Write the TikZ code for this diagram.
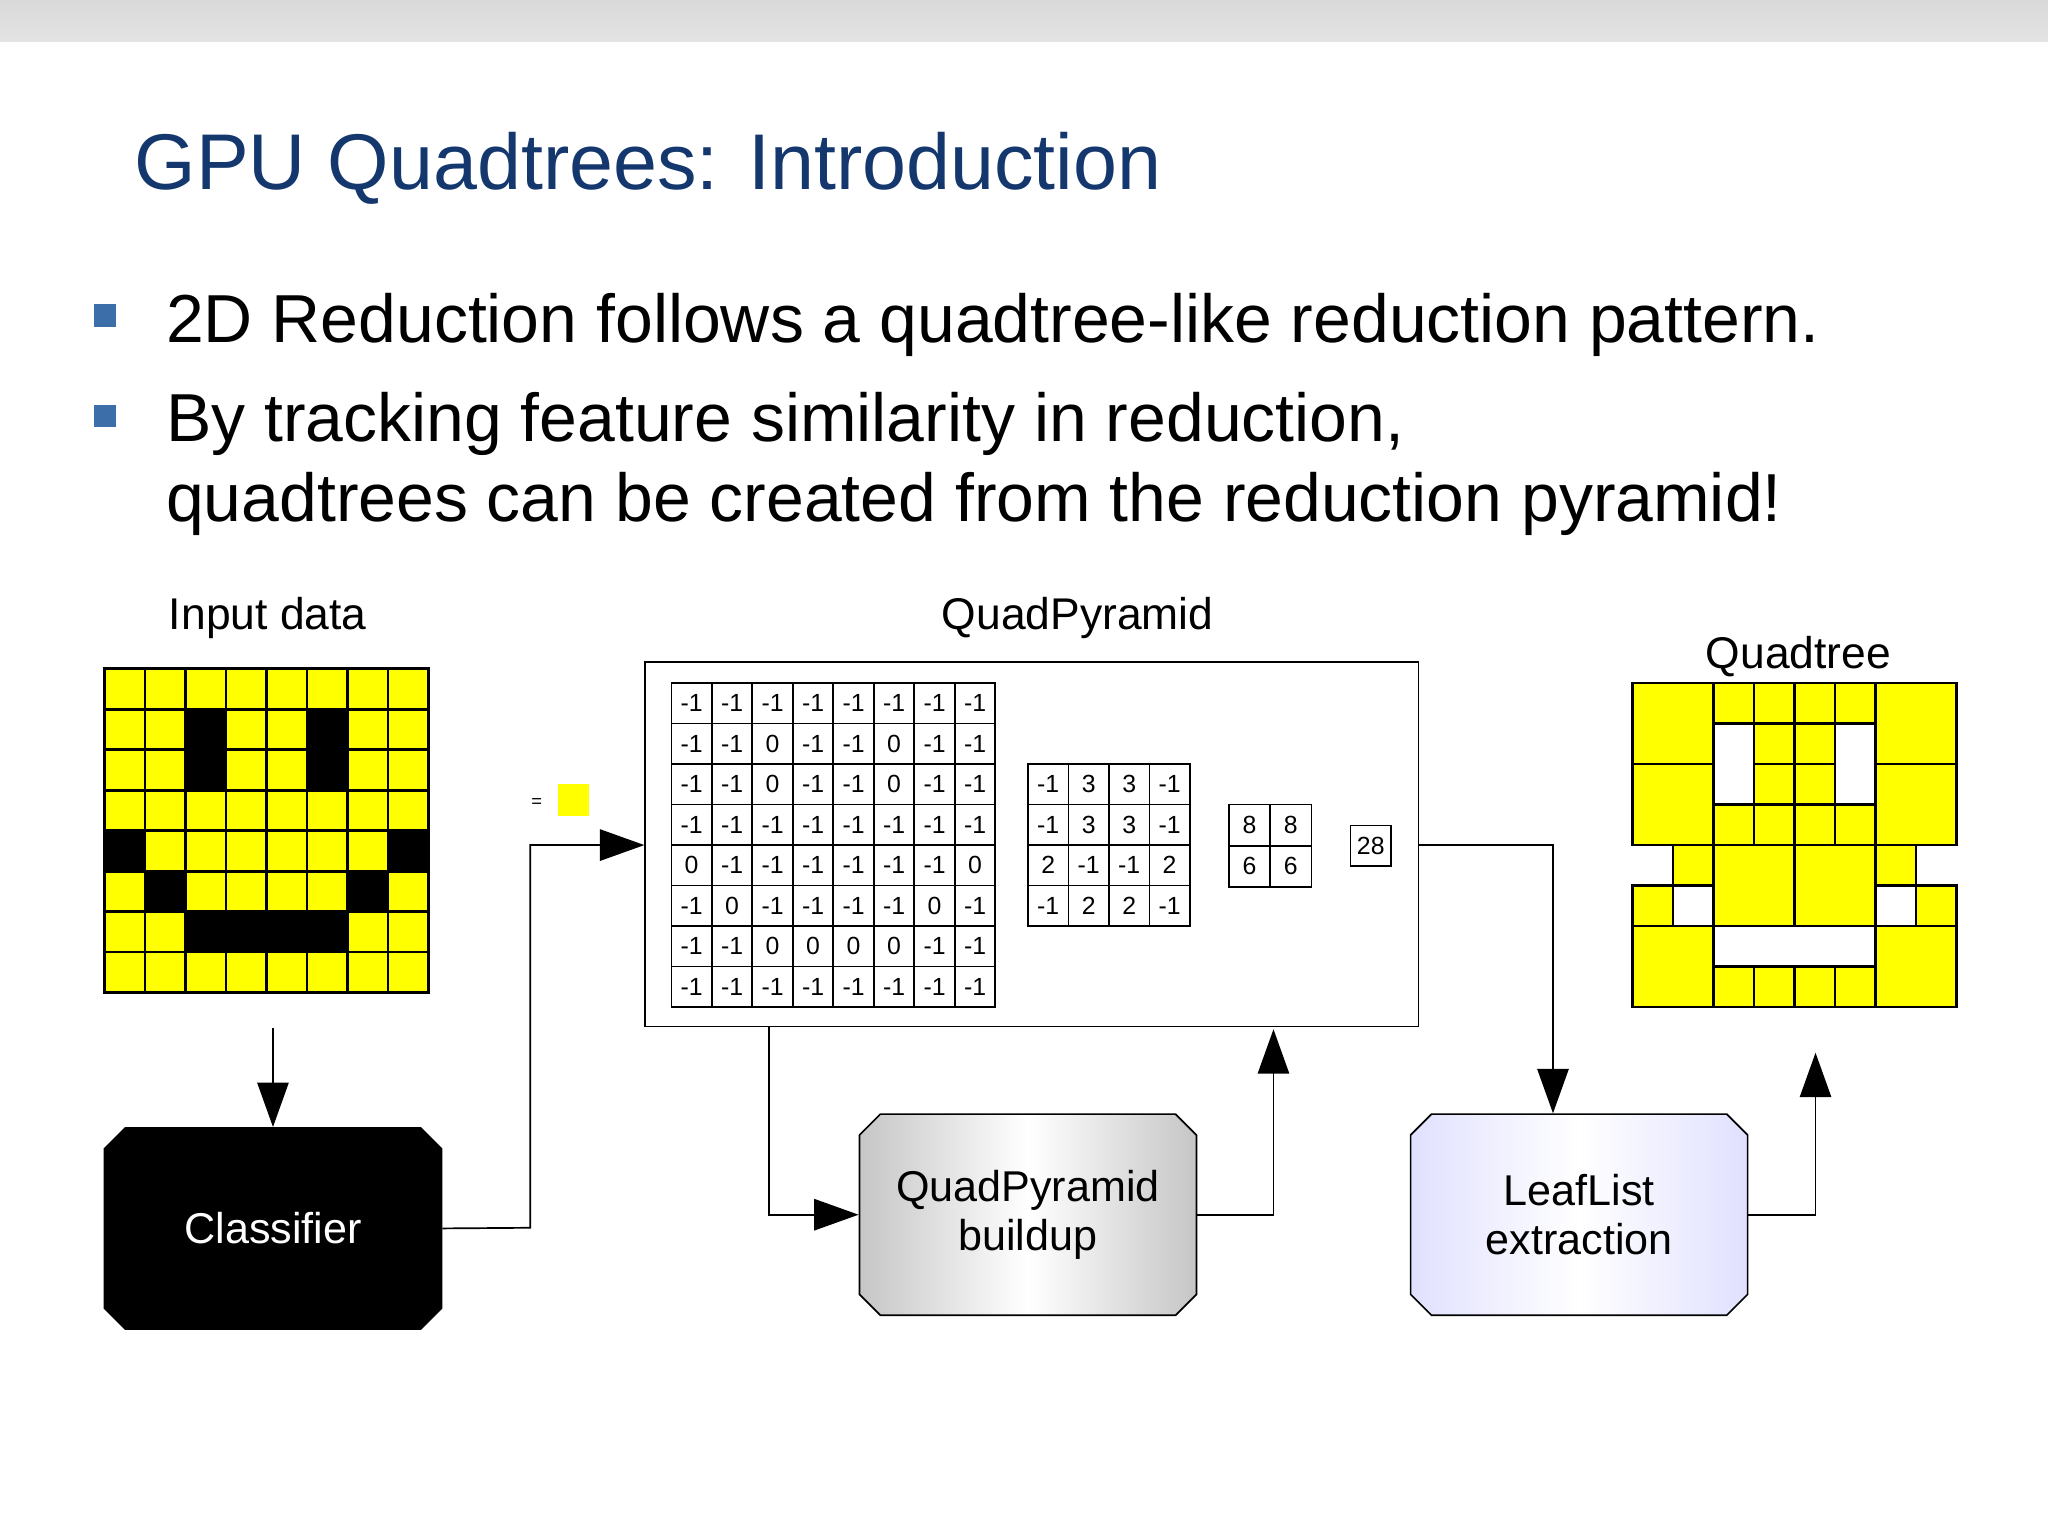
\documentclass[tikz,border=0pt]{standalone}
\usepackage{fontspec}
\setmainfont{Liberation Sans}
\usetikzlibrary{arrows.meta,shapes.misc}
\definecolor{titleblue}{RGB}{20,55,110}
\definecolor{bulletblue}{RGB}{60,110,170}
\definecolor{yel}{RGB}{255,255,0}
\begin{document}
\begin{tikzpicture}[x=1pt,y=-1pt,
  cell/.style={draw=black,line width=2pt},
  num/.style={font=\fontsize{19}{19}\selectfont,inner sep=0pt},
  lab/.style={font=\fontsize{34}{34}\selectfont},
  conn/.style={line width=1.3pt,-{Triangle[length=34pt,width=24pt]}},
  proc/.style={chamfered rectangle,chamfered rectangle xsep=8pt,chamfered rectangle ysep=8pt,draw=black,line width=1.3pt,minimum width=258pt,minimum height=154pt,align=center,font=\fontsize{33}{38}\selectfont}]
\useasboundingbox (0,0) rectangle (1568,1176);
\shade[top color=gray!30,bottom color=gray!22] (0,0) rectangle (1568,32);
\node[anchor=base west,text=titleblue,font=\fontsize{60.5}{60}\selectfont,inner sep=0pt] (title) at (103,145) {GPU Quadtrees: Introduction};
\fill[bulletblue] (72,233) rectangle (89,250);
\fill[bulletblue] (72,310) rectangle (89,327);
\node[anchor=base west,font=\fontsize{52}{52}\selectfont,inner sep=0pt] (b1) at (127,262) {2D Reduction follows a quadtree-like reduction pattern.};
\node[anchor=base west,font=\fontsize{52}{52}\selectfont,inner sep=0pt] (b2) at (127,338) {By tracking feature similarity in reduction,};
\node[anchor=base west,font=\fontsize{52}{52}\selectfont,inner sep=0pt] (b3) at (127,399) {quadtrees can be created from the reduction pyramid!};
% labels
\node[lab] (l1) at (205,473) {Input data};
\node[lab] (l2) at (825,473) {QuadPyramid};
\node[lab] (l3) at (1377,503) {Quadtree};
% smiley
\foreach \r in {0,...,7}{\foreach \c in {0,...,7}{
  \draw[cell,fill=yel] (80+31*\c,512+31*\r) rectangle ++(31,31);}}
\foreach \c/\r in {2/1,2/2,5/1,5/2,0/4,7/4,1/5,6/5,2/6,3/6,4/6,5/6}{
  \fill[black] (80+31*\c,512+31*\r) rectangle ++(31,31);}
\coordinate (smb) at (209,787);
% big box
\node[draw=black,line width=1.3pt,minimum width=592pt,minimum height=279pt,inner sep=0pt] (big) at (790,646.5) {};
\foreach \row [count=\r from 0] in {{-1,-1,-1,-1,-1,-1,-1,-1},{-1,-1,0,-1,-1,0,-1,-1},{-1,-1,0,-1,-1,0,-1,-1},{-1,-1,-1,-1,-1,-1,-1,-1},{0,-1,-1,-1,-1,-1,-1,0},{-1,0,-1,-1,-1,-1,0,-1},{-1,-1,0,0,0,0,-1,-1},{-1,-1,-1,-1,-1,-1,-1,-1}}{
  \foreach \v [count=\c from 0] in \row {
    \draw[line width=1.3pt] (514+31*\c,523+31*\r) rectangle ++(31,31);
    \node[num] at (529.5+31*\c,538.5+31*\r) {\v};}}
\foreach \row [count=\r from 0] in {{-1,3,3,-1},{-1,3,3,-1},{2,-1,-1,2},{-1,2,2,-1}}{
  \foreach \v [count=\c from 0] in \row {
    \draw[line width=1.3pt] (787+31*\c,585+31*\r) rectangle ++(31,31);
    \node[num] at (802.5+31*\c,600.5+31*\r) {\v};}}
\foreach \row [count=\r from 0] in {{8,8},{6,6}}{
  \foreach \v [count=\c from 0] in \row {
    \draw[line width=1.3pt] (941+31.5*\c,616+31.5*\r) rectangle ++(31.5,31.5);
    \node[num] at (956.75+31.5*\c,631.75+31.5*\r) {\v};}}
\draw[line width=1.3pt] (1034,632) rectangle (1065,663);
\node[num] (n28) at (1049.5,647.5) {28};
% small equals
\node[font=\fontsize{14}{14}\selectfont,inner sep=0pt] (eq) at (411,615) {=};
\fill[yel] (427,600) rectangle (451,625);
% quadtree
\foreach \x/\y/\s in {0/0/2,6/0/2,0/2/2,6/2/2,0/6/2,6/6/2,2/4/2,4/4/2,
  2/0/1,3/0/1,4/0/1,5/0/1,3/1/1,4/1/1,3/2/1,4/2/1,2/3/1,3/3/1,4/3/1,5/3/1,1/4/1,6/4/1,0/5/1,7/5/1,2/7/1,3/7/1,4/7/1,5/7/1}{
  \draw[cell,fill=yel] (1250+31*\x,523+31*\y) rectangle ++(31*\s,31*\s);}
% process boxes
\node[proc,fill=black,text=white] (cls) at (209,940.5) {Classifier};
\node[proc,left color=gray!45,right color=gray!45,middle color=white] (qpb) at (787,930) {QuadPyramid\\buildup};
\node[proc,left color=blue!12,right color=blue!12,middle color=white] (llx) at (1209,930) {LeafList\\extraction};
% connectors
\draw[conn] (smb) -- (cls.north -| smb);
\draw[conn] (cls.east) -- (406,940) -- (406,647) -- (big.west |- 0,647);
\draw[conn] (big.south -| 589,0) -- (589,930) -- (qpb.west);
\draw[conn] (qpb.east) -- (975,930) -- (975,788);
\draw[conn] (big.east |- 0,647) -- (1189,647) -- (llx.north -| 1189,0);
\coordinate (qte) at (1390,806);
\draw[conn] (llx.east) -- (1390,930) -- (qte);
\end{tikzpicture}
\end{document}
